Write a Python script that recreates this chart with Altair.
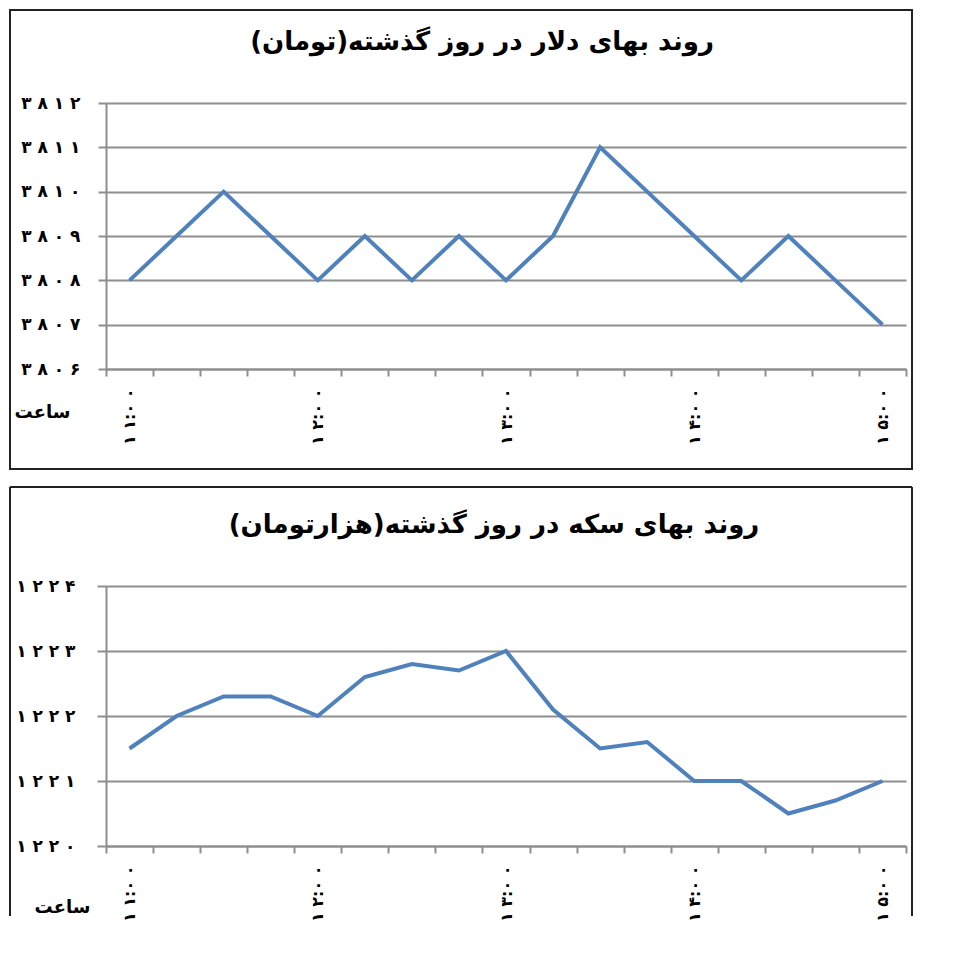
import altair as alt
import pandas as pd

# ---------------- data ----------------
slots = list(range(17))                      # quarter-hour slots 11:00 .. 15:00
hour_slots = [0, 4, 8, 12, 16]
hour_labels = ["۱۱:۰۰", "۱۲:۰۰", "۱۳:۰۰", "۱۴:۰۰", "۱۵:۰۰"]

dollar = [3808, 3809, 3810, 3809, 3808, 3809, 3808, 3809, 3808,
          3809, 3811, 3810, 3809, 3808, 3809, 3808, 3807]
coin = [1221.5, 1222.0, 1222.3, 1222.3, 1222.0, 1222.6, 1222.8, 1222.7, 1223.0,
        1222.1, 1221.5, 1221.6, 1221.0, 1221.0, 1220.5, 1220.7, 1221.0]

dollar_ticks = [3806, 3807, 3808, 3809, 3810, 3811, 3812]
dollar_tick_labels = ["۳۸۰۶", "۳۸۰۷", "۳۸۰۸", "۳۸۰۹", "۳۸۱۰", "۳۸۱۱", "۳۸۱۲"]
coin_ticks = [1220, 1221, 1222, 1223, 1224]
coin_tick_labels = ["۱۲۲۰", "۱۲۲۱", "۱۲۲۲", "۱۲۲۳", "۱۲۲۴"]

title_dollar = "روند بهای دلار در روز گذشته(تومان)"
title_coin = "روند بهای سکه در روز گذشته(هزارتومان)"
x_title = "ساعت"

# ---------------- style ----------------
FONT = "DejaVu Sans"
GRID = "#8e8e8e"
LINE = "#4F81BD"
NB = chr(160)
PLOT_W = 800
band = PLOT_W / len(slots)
edges = [s - 0.5 for s in slots] + [slots[-1] + 0.5]


def spaced_time(lab):
    hh, mm = lab.split(":")
    return NB.join(hh) + ":" + NB.join(mm)


x_expr = " : ".join(
    f"datum.value == {h - 0.5} ? '{spaced_time(lab)}'"
    for h, lab in zip(hour_slots, hour_labels)
) + " : ''"


def y_expr(ticks, labels):
    parts = [f"datum.value == {t} ? '{NB.join(l)}'" for t, l in zip(ticks, labels)]
    return " : ".join(parts) + " : ''"


def panel(values, ticks, labels, title, height, title_x, ytick, ylabpad,
          xtitle_x, xtitle_y, border):
    df = pd.DataFrame({"slot": slots, "value": values})
    line = alt.Chart(df).mark_line(color=LINE, strokeWidth=4).encode(
        x=alt.X("slot:Q",
                scale=alt.Scale(domain=[edges[0], edges[-1]], nice=False, zero=False),
                axis=alt.Axis(values=edges, labelExpr=x_expr, labelAngle=270,
                              labelOffset=band / 2, labelFlush=False,
                              labelOverlap=False, labelBound=False,
                              labelPadding=12, tickSize=7, grid=False,
                              labelFontSize=16,
                              title=x_title, titleX=xtitle_x, titleY=xtitle_y,
                              titleAngle=0, titleAlign="center",
                              titleBaseline="middle", titleFontSize=18,
                              titleFont=FONT, titleFontWeight="bold",
                              titleColor="black")),
        y=alt.Y("value:Q",
                scale=alt.Scale(domain=[ticks[0], ticks[-1]], nice=False, zero=False),
                axis=alt.Axis(values=ticks, labelExpr=y_expr(ticks, labels),
                              tickSize=ytick, labelPadding=ylabpad, grid=True,
                              labelFontSize=17, title=None)),
    )
    title_mark = alt.Chart(alt.Data(values=[{}])).mark_text(
        font=FONT, fontSize=26, fontWeight="bold", color="black",
        align="center", baseline="middle",
    ).encode(x=alt.value(title_x), y=alt.value(-61), text=alt.value(title))
    layers = [line, title_mark] + border
    return alt.layer(*layers).properties(width=PLOT_W, height=height)


one = alt.Data(values=[{}])
RIGHT = PLOT_W + 6
border_top = [
    alt.Chart(one).mark_rect(fill="transparent", stroke="#222", strokeWidth=2).encode(
        x=alt.value(-96), x2=alt.value(RIGHT), y=alt.value(-93), y2=alt.value(366))
]
border_bottom = [
    alt.Chart(one).mark_rule(color="#222", strokeWidth=2).encode(
        x=alt.value(-96), y=alt.value(-99), y2=alt.value(330)),
    alt.Chart(one).mark_rule(color="#222", strokeWidth=2).encode(
        x=alt.value(-96), x2=alt.value(RIGHT), y=alt.value(-99)),
    alt.Chart(one).mark_rule(color="#222", strokeWidth=2).encode(
        x=alt.value(RIGHT), y=alt.value(-99), y2=alt.value(330)),
]

top = panel(dollar, dollar_ticks, dollar_tick_labels, title_dollar, 266, 376, 8, 18,
            -64, 43, border_top)
bottom = panel(coin, coin_ticks, coin_tick_labels, title_coin, 260, 388, 9, 22,
               -44, 61, border_bottom)

chart = alt.vconcat(top, bottom, spacing=14).properties(
    padding=0, background="white"
).configure_view(stroke="transparent").configure_axis(
    domainColor=GRID, domainWidth=2, tickColor=GRID, tickWidth=2,
    gridColor=GRID, gridWidth=2, labelFont=FONT, labelFontWeight="bold",
    labelColor="black",
)

chart.save("out.html", embed_options={"renderer": "svg", "actions": False})
